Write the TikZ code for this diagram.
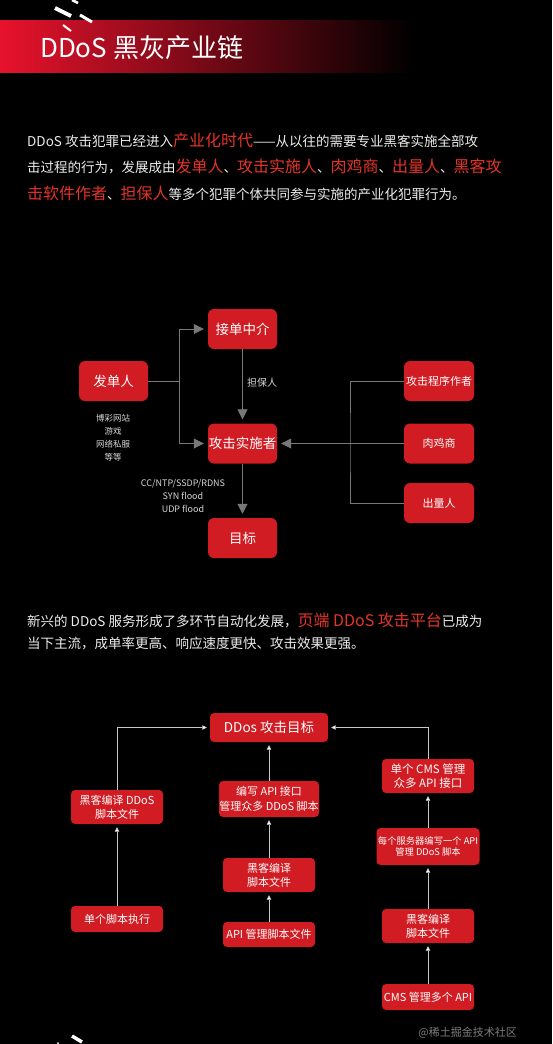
\documentclass[tikz,border=0pt]{standalone}
\usepackage{fontspec}
\setmainfont{Noto Sans CJK SC}
\usetikzlibrary{arrows.meta}

\definecolor{boxred}{RGB}{208,28,34}
\definecolor{hlred}{RGB}{228,52,42}
\definecolor{bandred}{RGB}{232,18,44}
\definecolor{txtgray}{RGB}{236,236,236}
\definecolor{notegray}{RGB}{215,215,215}
\definecolor{linegray}{RGB}{120,120,120}
\definecolor{flowline}{RGB}{200,200,200}
\definecolor{wmgray}{RGB}{125,125,125}

\newcommand{\redword}[1]{{\fontsize{16}{16}\selectfont\color{hlred}#1}}

\begin{document}
\begin{tikzpicture}[x=1pt, y=-1pt,
  rednode/.style={shape=rectangle, rounded corners=6pt, fill=boxred, text=white, inner sep=0pt, minimum width=69pt, minimum height=40pt, font=\fontsize{13.5}{13.5}\selectfont },
  smallrednode/.style={rednode, minimum width=70pt, font=\fontsize{11}{11}\selectfont },
  flownode/.style={shape=rectangle, rounded corners=4pt, fill=boxred, text=white, inner sep=0pt, minimum width=92pt, align=center, font=\fontsize{11}{14}\selectfont },
  grayline/.style={draw=linegray, line width=0.8pt },
  grayarrow/.style={grayline, -{Triangle[length=10pt,width=10pt]}, shorten >=4pt },
  whitearrow/.style={draw=flowline, line width=0.6pt, -{Triangle[length=4.5pt,width=4.5pt,fill=white]}, shorten >=3pt },
  paraline/.style={anchor=base west, inner sep=0pt, text=txtgray, font=\fontsize{13.5}{13.5}\selectfont },
  notetext/.style={text=notegray, align=center, inner sep=0pt },
]

\useasboundingbox (0,0) rectangle (552,1044);
\fill[black] (0,0) rectangle (552,1044);

%HEADER
\shade[left color=bandred, middle color=bandred!40!black, right color=black] (0,20) rectangle (415,72);
\draw[white, line width=4pt] (55,8) -- (71,16);
\draw[white, line width=3pt] (80,15) -- (92,22);
\draw[white, line width=2pt] (63,25) -- (71,31);
\draw[white, line width=2.5pt] (72,0) -- (78,3);
\node[anchor=base west, inner sep=0pt, text=white, font=\fontsize{26}{26}\selectfont] (title) at (40,57) {DDoS 黑灰产业链};

%INTRO TEXT
\node[paraline] (introA) at (27,146.5) {DDoS 攻击犯罪已经进入\redword{产业化时代}——从以往的需要专业黑客实施全部攻};
\node[paraline] (introB) at (27,172.5) {击过程的行为，发展成由\redword{发单人}、\redword{攻击实施人}、\redword{肉鸡商}、\redword{出量人}、\redword{黑客攻}};
\node[paraline] (introC) at (27,199.5) {\redword{击软件作者}、\redword{担保人}等多个犯罪个体共同参与实施的产业化犯罪行为。};

%CHAIN
\node[rednode] (fadan) at (113.5,381) {发单人};
\node[rednode] (jiedan) at (242.5,329) {接单中介};
\node[rednode] (gongji) at (242.5,443.5) {攻击实施者};
\node[rednode] (mubiao) at (242.5,538) {目标};
\node[smallrednode] (chengxu) at (439,381) {攻击程序作者};
\node[smallrednode] (rouji) at (439,443.5) {肉鸡商};
\node[smallrednode] (chuliang) at (439,503) {出量人};

\coordinate (fork) at (179,381);
\draw[grayline] (fadan.east) -- (fork);
\draw[grayarrow] (fork) |- (jiedan.west);
\draw[grayarrow] (fork) |- (gongji.west);
\draw[grayarrow] (jiedan.south) -- (gongji.north);
\draw[grayarrow] (gongji.south) -- (mubiao.north);

\coordinate (rfork) at (350,443.5);
\draw[grayline] (chengxu.west) -| (rfork) |- (chuliang.west);
\draw[grayarrow] (rouji.west) -- (gongji.east);

\node[notetext, font=\fontsize{8.5}{13}\selectfont] (fadannote) at (113,437.5) {博彩网站\\游戏\\网络私服\\等等};
\node[notetext, font=\fontsize{10}{10}\selectfont] (danbao) at (262,383) {担保人};
\node[notetext, font=\fontsize{9}{13}\selectfont] (attacktype) at (183,496) {CC/NTP/SSDP/RDNS\\SYN flood\\UDP flood};

%PLATFORM TEXT
\node[paraline] (platA) at (27,626.5) {新兴的 DDoS 服务形成了多环节自动化发展，\redword{页端 DDoS 攻击平台}已成为};
\node[paraline] (platB) at (27,648.5) {当下主流，成单率更高、响应速度更快、攻击效果更强。};

%PLATFORM FLOW
\node[flownode, minimum width=118pt, minimum height=29pt, font=\fontsize{13.5}{13.5}\selectfont] (target) at (269,727.5) {DDos 攻击目标};

\node[flownode, minimum height=34pt] (heikeA) at (117,807) {黑客编译 DDoS\\脚本文件};
\node[flownode, minimum height=26pt] (single) at (117,919) {单个脚本执行};

\node[flownode, minimum width=100pt, minimum height=36pt, font=\fontsize{11}{15}\selectfont] (apiwrite) at (269,799) {编写 API 接口\\管理众多 DDoS 脚本};
\node[flownode, minimum height=34pt] (heikeB) at (269,875) {黑客编译\\脚本文件};
\node[flownode, minimum height=25pt] (apimanage) at (269,934.5) {API 管理脚本文件};

\node[flownode, minimum height=34pt, font=\fontsize{11.5}{13.5}\selectfont] (cmsone) at (428,776) {单个 CMS 管理\\众多 API 接口};
\node[flownode, minimum width=103pt, minimum height=37pt, font=\fontsize{9.3}{11.5}\selectfont] (perserver) at (428,846.5) {每个服务器编写一个 API\\管理 DDoS 脚本};
\node[flownode, minimum height=34pt] (heikeC) at (428,926) {黑客编译\\脚本文件};
\node[flownode, minimum height=26pt] (cmsmany) at (428,997) {CMS 管理多个 API};

\draw[whitearrow] (single.north) -- (heikeA.south);
\draw[whitearrow] (heikeA.north) |- (target.west);
\draw[whitearrow] (apimanage.north) -- (heikeB.south);
\draw[whitearrow] (heikeB.north) -- (apiwrite.south);
\draw[whitearrow] (apiwrite.north) -- (target.south);
\draw[whitearrow] (cmsmany.north) -- (heikeC.south);
\draw[whitearrow] (heikeC.north) -- (perserver.south);
\draw[whitearrow] (perserver.north) -- (cmsone.south);
\draw[whitearrow] (cmsone.north) |- (target.east);

%FOOTER
\draw[white, line width=3.5pt] (72,1036) -- (82,1042);
\fill[white] (58,1043) circle (1pt);
\node[anchor=east, inner sep=0pt, text=wmgray, font=\fontsize{11}{11}\selectfont] (watermark) at (517,1033) {@稀土掘金技术社区};

\end{tikzpicture}
\end{document}
